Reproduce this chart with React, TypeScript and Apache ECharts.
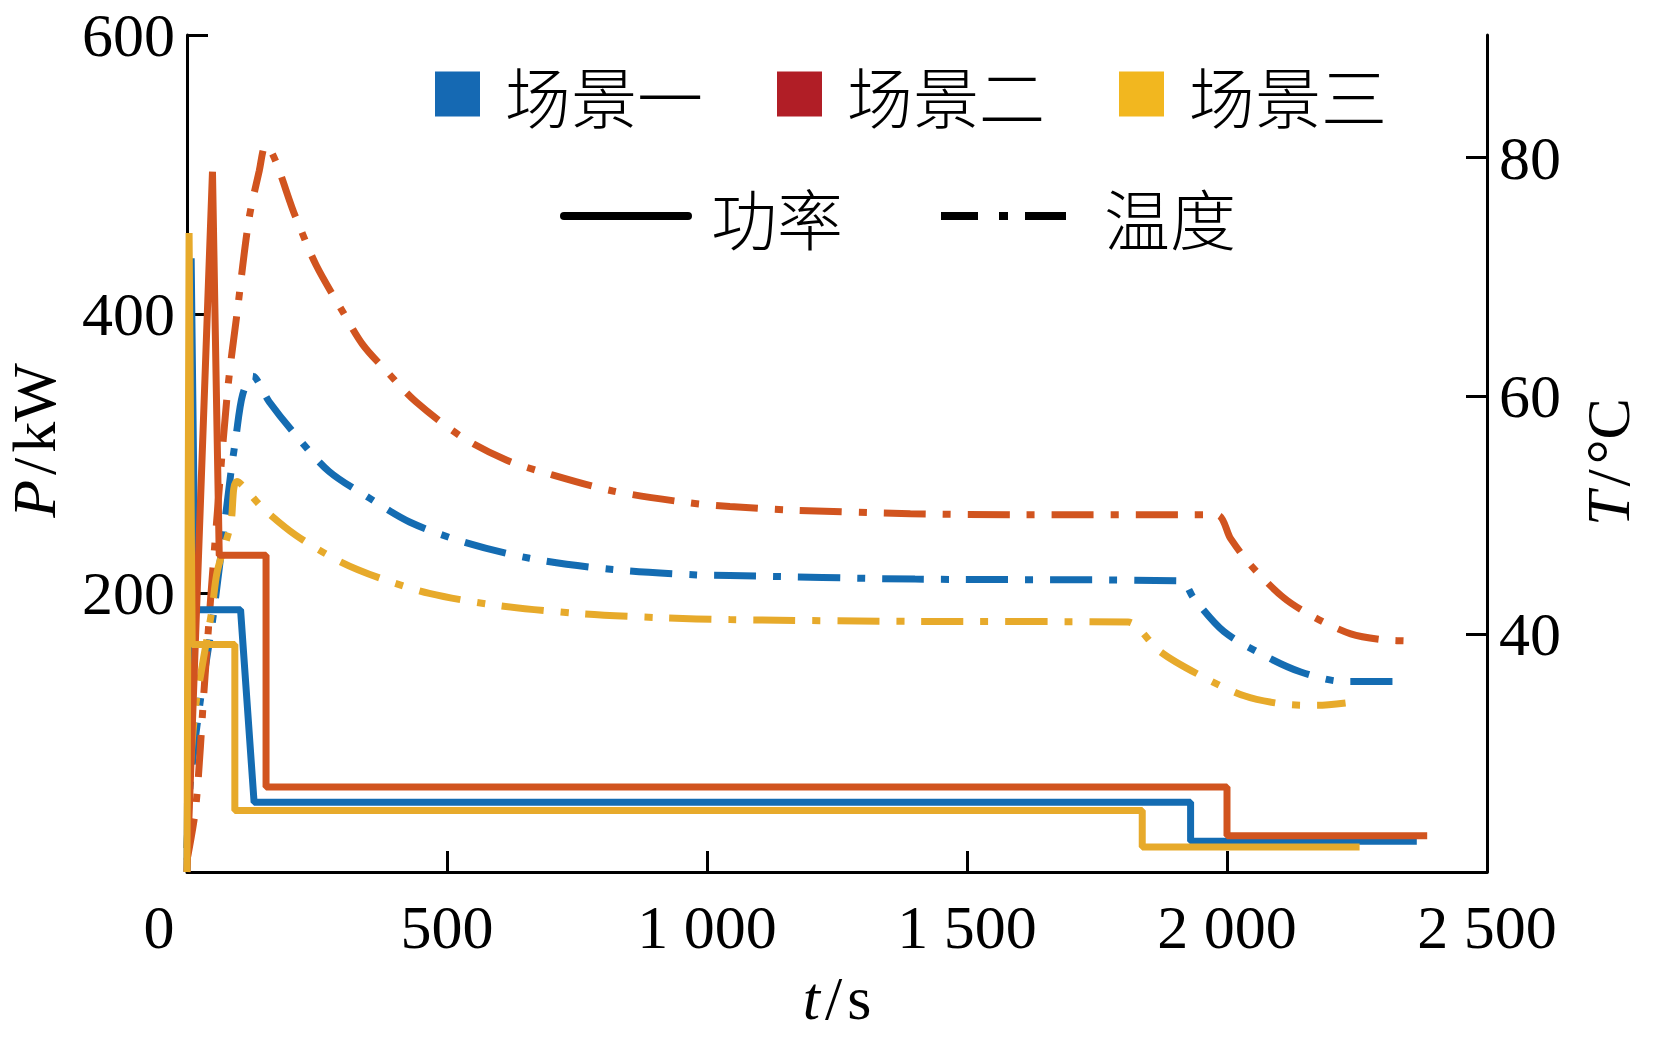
import React, { useEffect, useRef } from 'react';
import * as echarts from 'echarts';

// ---- data ----
const scenarioNames = ['场景一', '场景二', '场景三'];
const powerLegendName = '功率';
const tempLegendName = '温度';
const xTicks = [0, 500, 1000, 1500, 2000, 2500];
const powerTicks = [0, 200, 400, 600];
const tempTicks = [20, 40, 60, 80];

// power P (kW) vs time t (s)
const power1: number[][] = [[0, 0], [8, 440], [16, 188], [103, 188], [129, 50], [1930, 50], [1930, 22], [2365, 22]];
const power2: number[][] = [[0, 0], [49, 502], [62, 227], [152, 227], [152, 61], [2000, 61], [2000, 26], [2385, 26]];
const power3: number[][] = [[0, 0], [4, 458], [10, 163], [92, 163], [92, 44], [1837, 44], [1837, 18], [2255, 18]];

// temperature T (°C) vs time t (s)
const temp1: number[][] = [[0, 22], [6, 27.3], [26, 34.5], [51, 41.7], [84, 53.4], [94, 56.5], [107, 60.1], [126, 61.65], [158, 59.5], [209, 56.7], [273, 53.65], [351, 51.4], [428, 49.4], [530, 47.75], [659, 46.35], [819, 45.4], [980, 44.95], [1044, 44.9], [1400, 44.6], [1911, 44.45], [1936, 43.0], [1994, 40.2], [2071, 38.2], [2142, 36.8], [2225, 36.0], [2302, 36.0], [2337, 36.0]];
const temp2: number[][] = [[0, 21], [17, 25.5], [33, 35.4], [49, 45], [78, 60.4], [97, 67.2], [119, 74.8], [139, 78.9], [151, 81.0], [209, 75.0], [248, 71.0], [299, 67.1], [338, 64.3], [383, 62.1], [440, 59.5], [530, 56.5], [614, 54.6], [691, 53.5], [819, 52.0], [967, 51.0], [1044, 50.7], [1160, 50.4], [1391, 50.1], [1600, 50.0], [1980, 50.0], [2007, 48.0], [2045, 45.8], [2110, 43.0], [2168, 41.4], [2238, 40.0], [2302, 39.5], [2359, 39.4]];
const temp3: number[][] = [[0, 22], [6, 28.5], [16, 33.7], [32, 38], [48, 42], [58, 45.2], [84, 49.2], [96, 52.8], [145, 50.6], [209, 48.3], [293, 46.1], [370, 44.7], [466, 43.4], [595, 42.4], [755, 41.7], [915, 41.35], [1044, 41.2], [1400, 41.05], [1810, 41.0], [1827, 40.6], [1872, 38.5], [1949, 36.5], [2033, 34.8], [2110, 34.1], [2174, 34.0], [2228, 34.2]];

const powerData = [power1, power2, power3];
const tempData = [temp1, temp2, temp3];

const lineColors = ['#146cb2', '#d1541f', '#e7aa2b'];
const legendColors = ['#1569b3', '#b11e26', '#f2b71f'];

const SERIF = '"Liberation Serif", "Times New Roman", serif';
const CJK = '"Noto Sans CJK SC", sans-serif';
const DASH = [42, 17, 8, 17];

const solidIcon = 'path://M4,0H128A4,4 0 0 1 128,8H4A4,4 0 0 1 4,0Z';
const dashDotIcon = 'path://M0,0H37V8H0Z M58,0H67V8H58Z M84,0H125V8H84Z';

function fmtTime(v: number): string {
  if (v === 0) return '{z|0}';
  const s = String(v);
  return s.length > 3 ? s.slice(0, -3) + ' ' + s.slice(-3) : s;
}

export default function App() {
  const ref = useRef<HTMLDivElement>(null);
  useEffect(() => {
    if (!ref.current) return;
    const chart = echarts.init(ref.current, null, { renderer: 'svg' });
    const axisLine = { show: true, onZero: false, lineStyle: { color: '#000', width: 3 } };
    const axisTick = { show: true, inside: true, length: 21, lineStyle: { color: '#000', width: 3 } };
    const labelBase = { color: '#000', fontSize: 62, fontFamily: SERIF };
    const legendText = { color: '#000', fontSize: 66, lineHeight: 66, fontFamily: CJK, fontWeight: 300 };
    const nameRich = {
      i: { ...labelBase, fontStyle: 'italic' },
      s: { ...labelBase, padding: [0, 5, 0, 5] },
    };

    const series: any[] = [];
    scenarioNames.forEach((name, i) => {
      series.push({
        name,
        type: 'line',
        xAxisIndex: 0,
        yAxisIndex: 0,
        data: powerData[i],
        symbol: 'none',
        showSymbol: false,
        itemStyle: { color: legendColors[i] },
        lineStyle: { color: lineColors[i], width: 7 },
        z: 3,
      });
    });
    scenarioNames.forEach((name, i) => {
      series.push({
        name: name + tempLegendName,
        type: 'line',
        xAxisIndex: 0,
        yAxisIndex: 1,
        data: tempData[i],
        symbol: 'none',
        showSymbol: false,
        smooth: 0.3,
        itemStyle: { color: lineColors[i] },
        lineStyle: { color: lineColors[i], width: 7, type: DASH, cap: 'butt' },
        z: 2,
      });
    });
    series.push({ name: powerLegendName, type: 'line', data: [], symbol: 'none', itemStyle: { color: '#000' }, lineStyle: { color: '#000' } });
    series.push({ name: tempLegendName, type: 'line', data: [], symbol: 'none', itemStyle: { color: '#000' }, lineStyle: { color: '#000', type: DASH } });

    chart.setOption({
      animation: false,
      backgroundColor: '#fff',
      grid: { left: 187, right: 168, top: 35, bottom: 168, containLabel: false, outerBoundsMode: 'none' },
      legend: [
        {
          data: scenarioNames.map((n, i) => ({ name: n, icon: 'rect', itemStyle: { color: legendColors[i], borderWidth: 0 } })),
          left: 430,
          top: 56,
          itemWidth: 45,
          itemHeight: 45,
          itemGap: 74,
          selectedMode: false,
          textStyle: { ...legendText, padding: [0, 0, 0, 20] },
        },
        {
          data: [{ name: powerLegendName, icon: solidIcon, itemStyle: { color: '#000', borderWidth: 0 } }],
          left: 555,
          top: 178,
          itemWidth: 132,
          itemHeight: 8,
          selectedMode: false,
          textStyle: { ...legendText, padding: [0, 0, 0, 14] },
        },
        {
          data: [{ name: tempLegendName, icon: dashDotIcon, itemStyle: { color: '#000', borderWidth: 0 } }],
          left: 936,
          top: 178,
          itemWidth: 125,
          itemHeight: 8,
          selectedMode: false,
          textStyle: { ...legendText, padding: [0, 0, 0, 33] },
        },
      ],
      xAxis: {
        type: 'value',
        min: xTicks[0],
        max: xTicks[xTicks.length - 1],
        interval: 500,
        axisLine,
        axisTick,
        splitLine: { show: false },
        axisLabel: {
          ...labelBase,
          margin: 24,
          formatter: fmtTime,
          rich: { z: { ...labelBase, padding: [0, 56, 0, 0] } },
        },
        name: '{i|t}{s|/}s',
        nameLocation: 'middle',
        nameGap: 95,
        nameTextStyle: { ...labelBase, rich: nameRich },
      },
      yAxis: [
        {
          type: 'value',
          position: 'left',
          min: powerTicks[0],
          max: powerTicks[powerTicks.length - 1],
          interval: 200,
          axisLine,
          axisTick,
          splitLine: { show: false },
          axisLabel: { ...labelBase, margin: 12, showMinLabel: false },
          name: '{i|P}{s|/}kW',
          nameLocation: 'middle',
          nameRotate: 90,
          nameGap: 122,
          nameTextStyle: { ...labelBase, padding: [0, 0, 0, 26], rich: nameRich },
        },
        {
          type: 'value',
          position: 'right',
          min: tempTicks[0],
          max: 90.3,
          interval: 20,
          axisLine,
          axisTick,
          splitLine: { show: false },
          axisLabel: { ...labelBase, margin: 12, showMinLabel: false, showMaxLabel: false },
          name: '{i|T}{s|/}°C',
          nameLocation: 'middle',
          nameRotate: 90,
          nameGap: 90,
          nameTextStyle: { ...labelBase, padding: [0, 17, 0, 0], rich: nameRich },
        },
      ],
      series,
    });
    return () => chart.dispose();
  }, []);
  return <div ref={ref} style={{ position: 'fixed', left: 0, top: 0, width: 1655, height: 1040, background: '#fff' }} />;
}
